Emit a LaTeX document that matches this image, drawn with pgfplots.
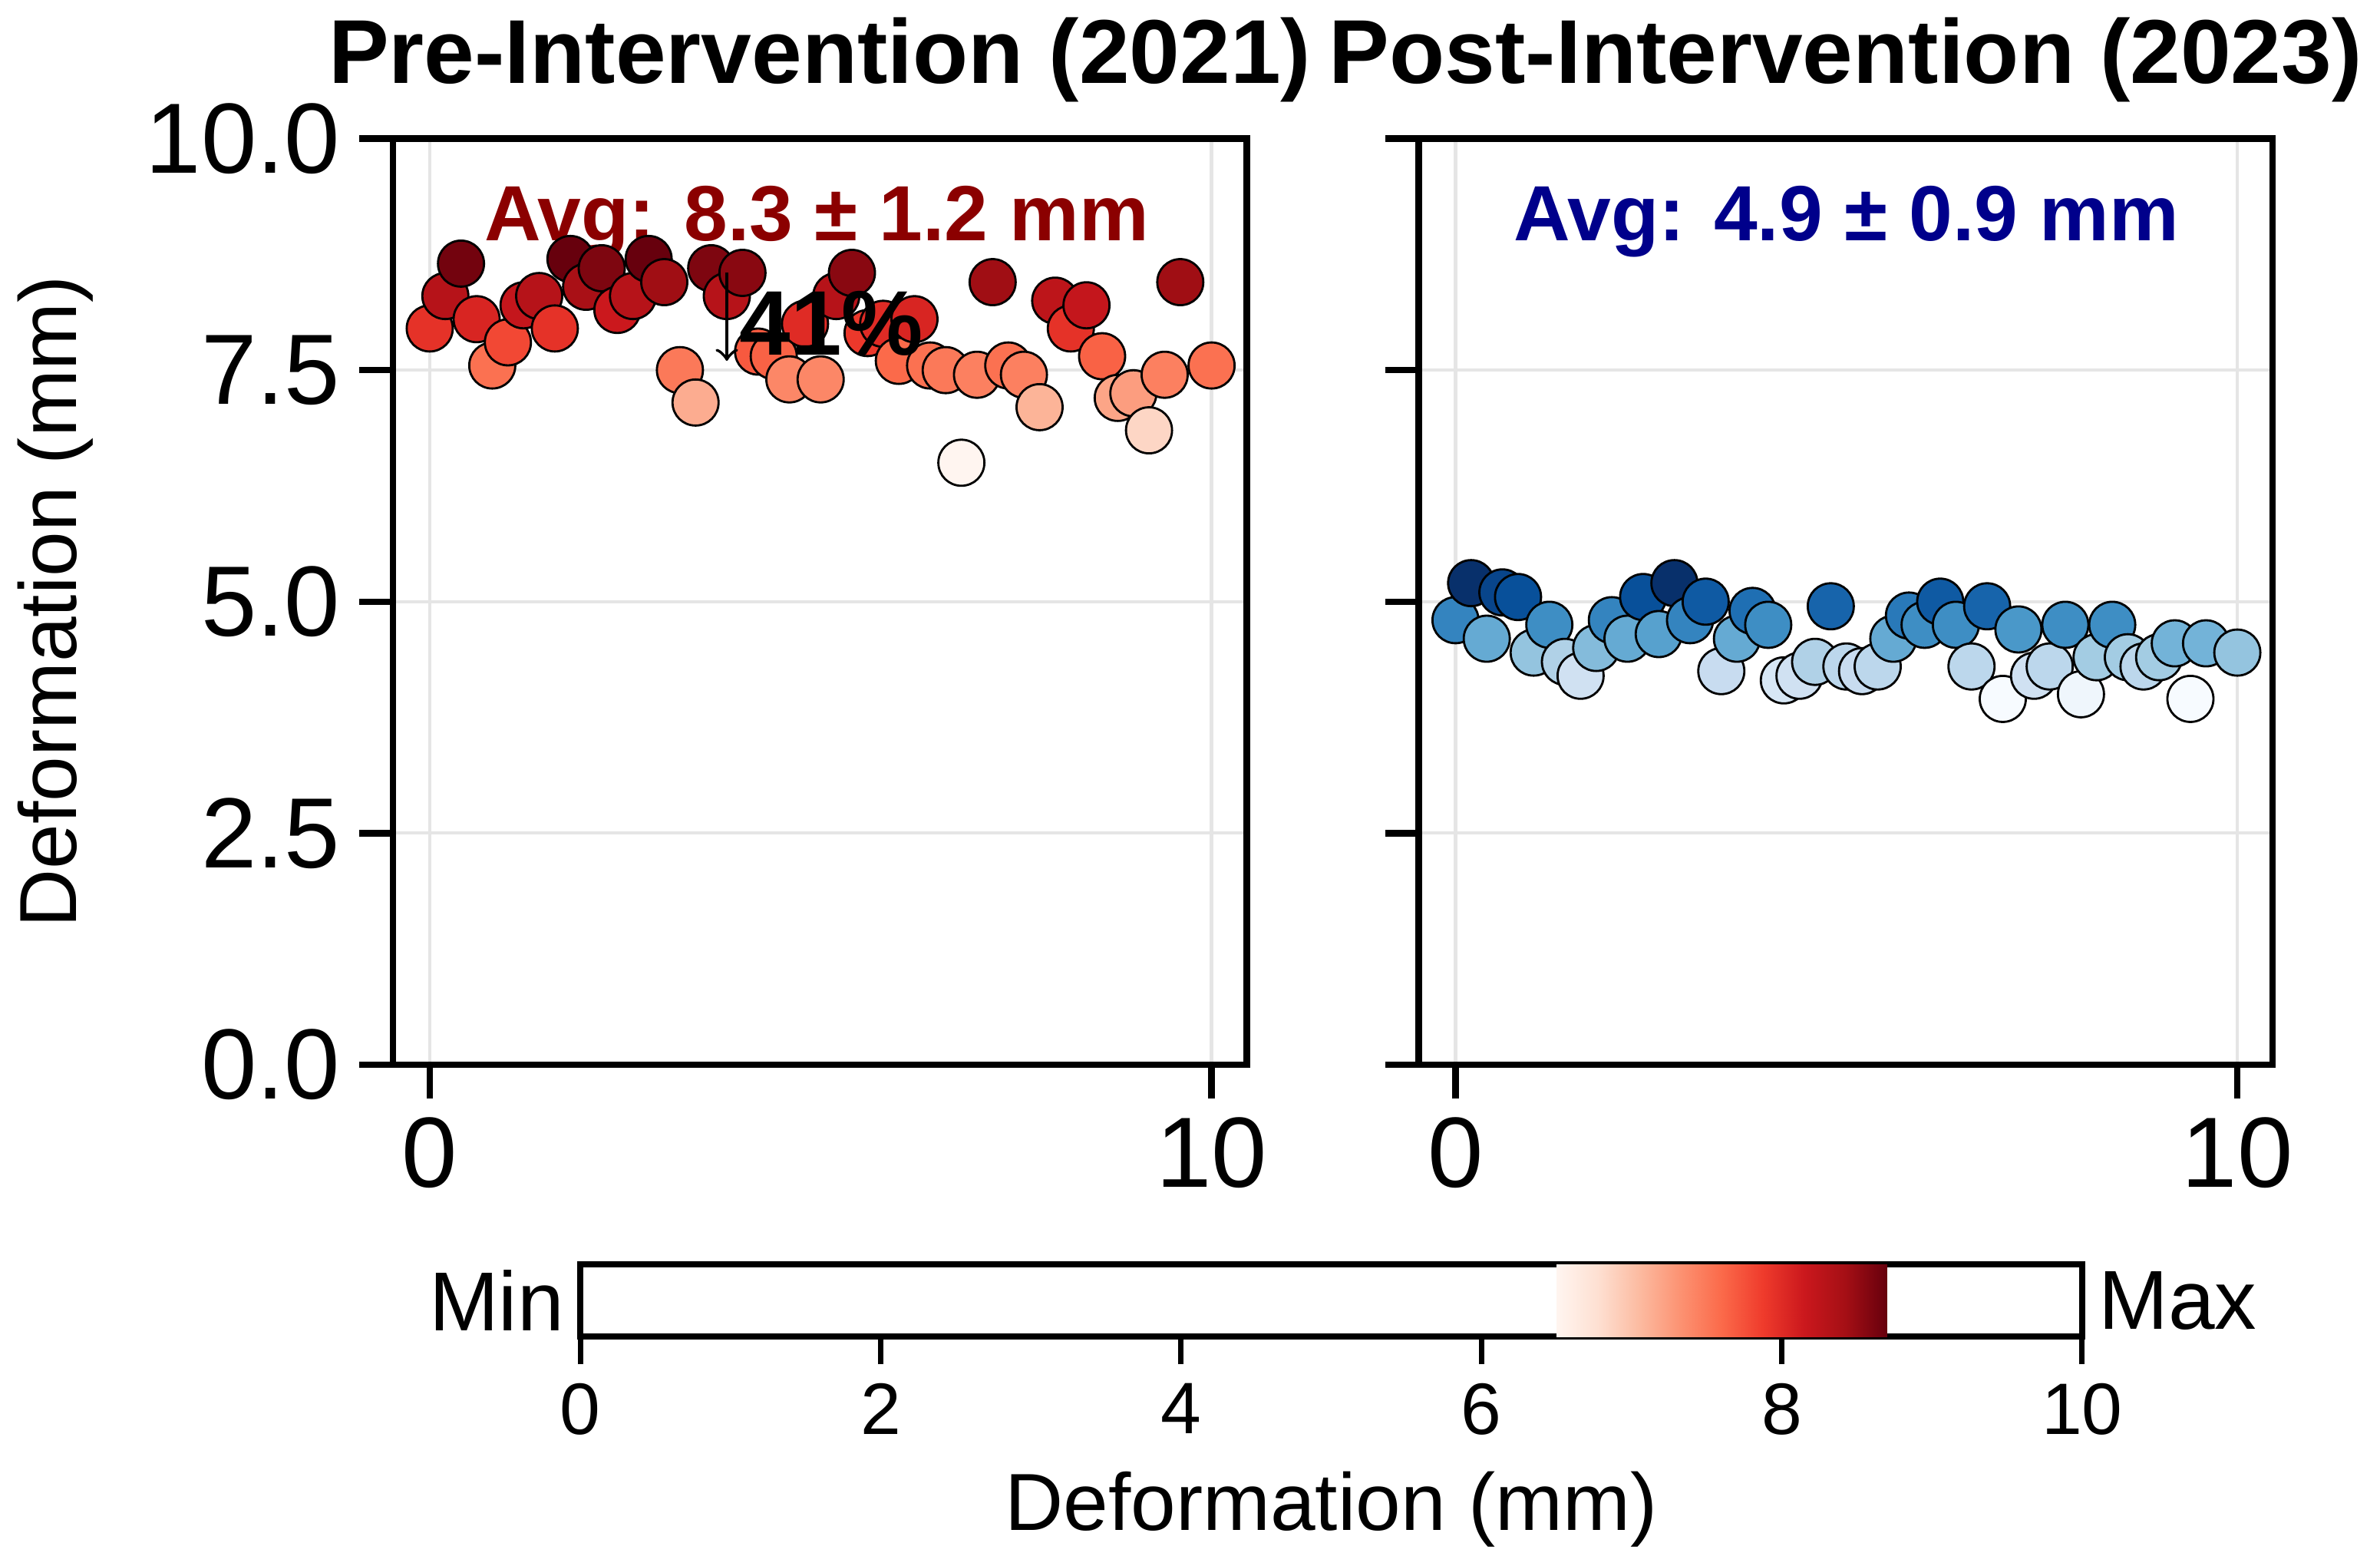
\documentclass[border=0pt]{standalone}
\usepackage{pgfplots}
\pgfplotsset{compat=1.18}
\usepackage{fontspec}
\setmainfont{Liberation Sans}
\pgfplotsset{
 colormap={Reds}{rgb255=(255,245,240) rgb255=(254,224,210) rgb255=(252,187,161) rgb255=(252,146,114) rgb255=(251,106,74) rgb255=(239,59,44) rgb255=(203,24,29) rgb255=(165,15,21) rgb255=(103,0,13)},
 colormap={Blues}{rgb255=(247,251,255) rgb255=(222,235,247) rgb255=(198,219,239) rgb255=(158,202,225) rgb255=(107,174,214) rgb255=(66,146,198) rgb255=(33,113,181) rgb255=(8,81,156) rgb255=(8,48,107)},
 panel/.style={scale only axis, width=55.6mm, height=60.3mm, xmin=-0.47, xmax=10.45, ymin=0, ymax=10,
  xtick={0,10}, ytick={0,2.5,5,7.5,10}, grid=major, grid style={gray!20, line width=0.6pt},
  axis line style={line width=1.2pt}, tick align=outside, major tick length=2.2mm,
  xtick pos=bottom, ytick pos=left,
  tick style={black, line width=1.2pt}, tick label style={font=\fontsize{18.5}{22}\selectfont},
  /pgf/number format/assume math mode=true, clip=false,
  title style={font=\bfseries\fontsize{16.8}{20}\selectfont, yshift=-1mm}},
 pts/.style={scatter, only marks, mark=*, mark size=1.5mm, point meta=y,
  scatter/use mapped color={draw=black, fill=mapped color}, line width=0.4pt}
}
\definecolor{darkred}{RGB}{139,0,0}
\definecolor{darkblue}{RGB}{0,0,139}
\begin{document}
\begin{tikzpicture}
\begin{axis}[panel, at={(0,0)}, anchor=south west, colormap name=Reds, point meta min=6.5, point meta max=8.7,
 yticklabel style={/pgf/number format/.cd, fixed, fixed zerofill, precision=1},
 ylabel={Deformation (mm)}, ylabel style={font=\fontsize{15}{18}\selectfont, yshift=1mm},
 title={Pre-Intervention (2021)}]
\addplot[pts] coordinates {
(0,7.95)(0.2,8.3)(0.4,8.65)(0.6,8.05)(0.8,7.55)(1.0,7.8)(1.2,8.2)(1.4,8.3)(1.6,7.95)(1.8,8.7)
(2.0,8.4)(2.2,8.6)(2.4,8.15)(2.6,8.3)(2.8,8.7)(3.0,8.45)(3.2,7.5)(3.4,7.15)(3.6,8.6)(3.8,8.3)
(4.0,8.55)(4.2,7.7)(4.4,7.65)(4.6,7.4)(4.8,8.0)(5.0,7.4)(5.2,8.3)(5.4,8.55)(5.6,7.9)(5.8,8.0)
(6.0,7.6)(6.2,8.05)(6.4,7.55)(6.6,7.5)(6.8,6.5)(7.0,7.45)(7.2,8.45)(7.4,7.55)(7.6,7.45)(7.8,7.1)
(8.0,8.25)(8.2,7.95)(8.4,8.2)(8.6,7.65)(8.8,7.2)(9.0,7.25)(9.2,6.85)(9.4,7.45)(9.6,8.45)(10,7.55)};
\node[font=\bfseries\fontsize{14.5}{17}\selectfont, text=darkred] at (axis cs:4.95,9.1) {Avg: 8.3 ± 1.2 mm};
\coordinate (a1) at (axis cs:3.8,8.55);
\coordinate (a2) at (axis cs:3.8,7.6);
\coordinate (t41) at (axis cs:3.95,8.0);
\end{axis}
\draw[->, line width=0.6pt] (a1) -- (a2);
\node[font=\bfseries\fontsize{17}{20}\selectfont, anchor=west, inner sep=0pt] at (t41) {41\%};
\begin{axis}[panel, at={(66.8mm,0)}, anchor=south west, colormap name=Blues, point meta min=3.95, point meta max=5.2,
 yticklabels={}, title={Post-Intervention (2023)}]
\addplot[pts] coordinates {
(0,4.8)(0.2,5.2)(0.4,4.6)(0.6,5.1)(0.8,5.05)(1.0,4.45)(1.2,4.75)(1.4,4.35)(1.6,4.2)(1.8,4.5)
(2.0,4.8)(2.2,4.6)(2.4,5.05)(2.6,4.65)(2.8,5.2)(3.0,4.8)(3.2,5.0)(3.4,4.25)(3.6,4.6)(3.8,4.9)
(4.0,4.75)(4.2,4.15)(4.4,4.2)(4.6,4.35)(4.8,4.95)(5.0,4.3)(5.2,4.25)(5.4,4.3)(5.6,4.6)(5.8,4.85)
(6.0,4.75)(6.2,5.0)(6.4,4.75)(6.6,4.3)(6.8,4.95)(7.0,3.95)(7.2,4.7)(7.4,4.2)(7.6,4.3)(7.8,4.75)
(8.0,4.0)(8.2,4.4)(8.4,4.75)(8.6,4.4)(8.8,4.3)(9.0,4.4)(9.2,4.55)(9.4,3.95)(9.6,4.55)(10,4.45)};
\node[font=\bfseries\fontsize{14.5}{17}\selectfont, text=darkblue] at (axis cs:5.0,9.1) {Avg: 4.9 ± 0.9 mm};
\end{axis}
\begin{axis}[scale only axis, width=97.8mm, height=4.7mm, at={(12.2mm,-17.7mm)}, anchor=south west,
 xmin=0, xmax=10, ymin=0, ymax=1, ytick=\empty, xtick={0,2,...,10},
 colormap name=Reds, point meta min=6.5, point meta max=8.7,
 axis line style={line width=1.2pt}, tick align=outside, major tick length=1.8mm,
 tick style={black, line width=1pt}, xtick pos=bottom,
 tick label style={font=\fontsize{13.5}{16}\selectfont}, /pgf/number format/assume math mode=true,
 xlabel={Deformation (mm)}, xlabel style={font=\fontsize{15}{18}\selectfont}, clip=false]
\addplot[surf, shader=interp, point meta=x] coordinates {
(6.5,0) (8.7,0)

(6.5,1) (8.7,1)
};
\node[anchor=east, font=\fontsize{15.5}{19}\selectfont, inner sep=1mm] at (axis cs:0,0.5) {Min};
\node[anchor=west, font=\fontsize{15.5}{19}\selectfont, inner sep=1mm] at (axis cs:10,0.5) {Max};
\end{axis}
\end{tikzpicture}
\end{document}
